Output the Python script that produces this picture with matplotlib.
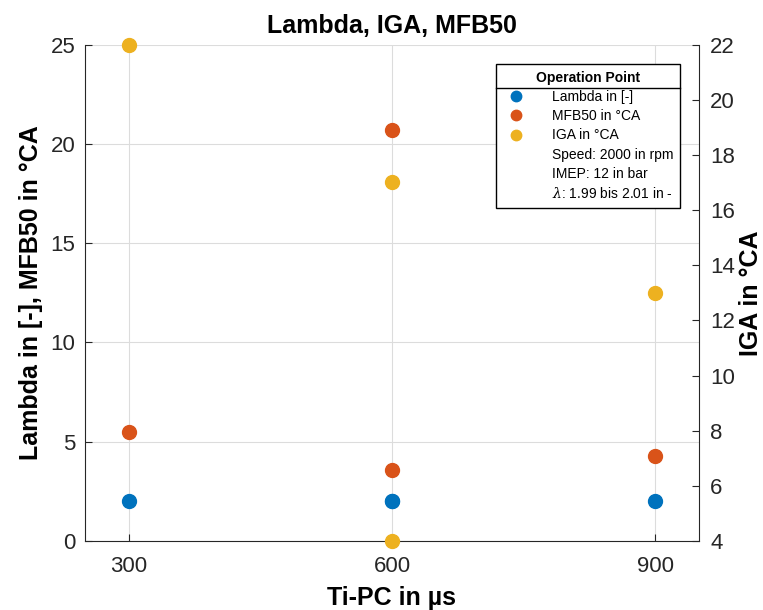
import matplotlib
matplotlib.use("Agg")
import matplotlib.pyplot as plt
from matplotlib.lines import Line2D

plt.rcParams['font.family'] = ['Liberation Sans', 'DejaVu Sans']
plt.rcParams['mathtext.fontset'] = 'dejavuserif'

# Injection time of the pre-chamber (µs)
ti_pc = [300, 600, 600, 900]
lambda_vals = [2.0, 2.0, 2.0, 2.0]
mfb50_vals = [5.5, 20.7, 3.6, 4.3]
iga_vals = [22.0, 17.0, 4.0, 13.0]

x_ticks = [300, 600, 900]
left_ticks = [0, 5, 10, 15, 20, 25]
right_ticks = [4, 6, 8, 10, 12, 14, 16, 18, 20, 22]

c_lambda = '#0072BD'
c_mfb = '#D95319'
c_iga = '#EDB120'

fig = plt.figure(figsize=(7.63, 6.10), dpi=100)
ax = fig.add_axes([0.1114, 0.1131, 0.916 - 0.1114, 0.927 - 0.1131])
ax2 = ax.twinx()

ms = 10
ax.plot(ti_pc, lambda_vals, 'o', color=c_lambda, ms=ms, zorder=3)
ax.plot(ti_pc, mfb50_vals, 'o', color=c_mfb, ms=ms, zorder=3)
ax2.plot(ti_pc, iga_vals, 'o', color=c_iga, ms=ms, zorder=3, clip_on=False)

ax.set_xlim(250, 950)
ax.set_ylim(0, 25)
ax2.set_ylim(4, 22)
ax.set_xticks(x_ticks)
ax.set_yticks(left_ticks)
ax2.set_yticks(right_ticks)

ax.grid(True, color='#dcdcdc', lw=0.8)
ax.set_axisbelow(True)

for a in (ax, ax2):
    a.spines['top'].set_visible(False)
    a.tick_params(direction='in', length=5, width=0.8, labelsize=16,
                  colors='#262626', pad=7)
ax.spines['left'].set_color('#262626')
ax.spines['bottom'].set_color('#262626')
ax.spines['right'].set_visible(False)
ax2.spines['left'].set_visible(False)
ax2.spines['bottom'].set_visible(False)
ax2.spines['right'].set_color('#262626')
ax.tick_params(axis='x', pad=11)
ax2.tick_params(axis='y', pad=8)

ax.set_xlabel('Ti-PC in µs', fontsize=18, fontweight='bold', labelpad=6)
ax.set_ylabel('Lambda in [-], MFB50 in °CA', fontsize=18, fontweight='bold', labelpad=5)
ax2.set_ylabel('IGA in °CA', fontsize=18, fontweight='bold', labelpad=3)
ax.set_title('Lambda, IGA, MFB50', fontsize=18, fontweight='bold', pad=8)

# Legend: markers for the series, plain text lines for the operating point
handles = [
    Line2D([], [], ls='none', marker='o', color=c_lambda, ms=7.5),
    Line2D([], [], ls='none', marker='o', color=c_mfb, ms=7.5),
    Line2D([], [], ls='none', marker='o', color=c_iga, ms=7.5),
    Line2D([], [], ls='none'),
    Line2D([], [], ls='none'),
    Line2D([], [], ls='none'),
]
labels = ['Lambda in [-]', 'MFB50 in °CA', 'IGA in °CA',
          'Speed: 2000 in rpm', 'IMEP: 12 in bar',
          r'$\lambda$: 1.99 bis 2.01 in -']
leg = ax2.legend(handles, labels, title='Operation Point', loc='upper right',
                 bbox_to_anchor=(0.969, 0.960), borderaxespad=0, fontsize=10,
                 title_fontproperties={'weight': 'bold', 'size': 10},
                 frameon=True, fancybox=False, edgecolor='black',
                 framealpha=1, handletextpad=1.6, handlelength=2.0,
                 borderpad=0.45, labelspacing=0.38)
leg.get_frame().set_linewidth(1.0)

fig.canvas.draw()
bb = leg.get_window_extent()
tb = leg.get_title().get_window_extent()
inv = fig.transFigure.inverted()
y_sep = tb.y0 - 3
(x0, ys), (x1, _) = inv.transform([(bb.x0, y_sep), (bb.x1, y_sep)])
fig.add_artist(Line2D([x0, x1], [ys, ys], color='black', lw=1.0,
                      transform=fig.transFigure, zorder=10))

fig.savefig('out.png', dpi=100)
